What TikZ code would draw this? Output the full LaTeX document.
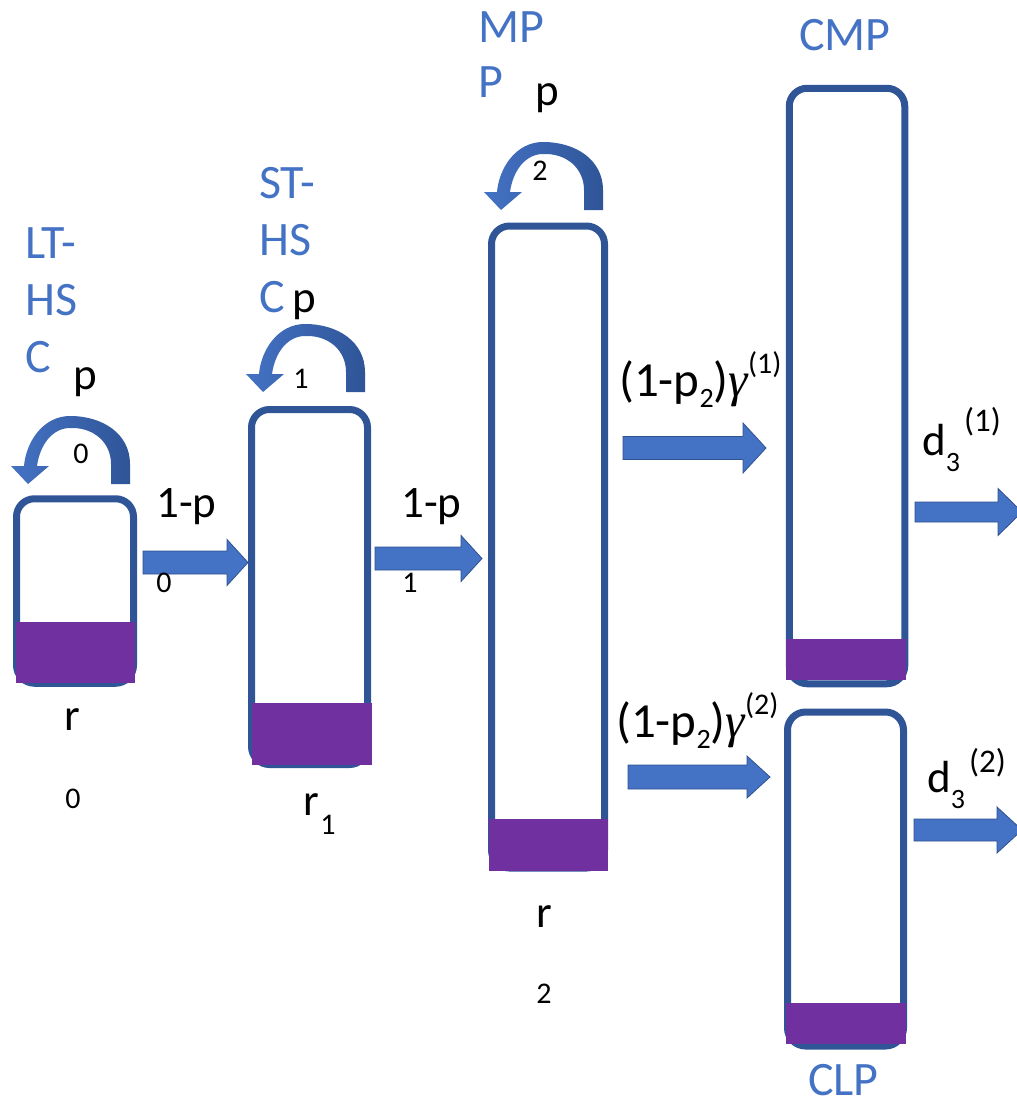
\documentclass[tikz,border=0pt]{standalone}
\usepackage{fontspec}
\setmainfont{Carlito}
\newfontfamily\greekfont{Liberation Serif}

\definecolor{boxline}{RGB}{47,85,151}
\definecolor{flowblue}{RGB}{68,114,196}
\definecolor{flowedge}{RGB}{47,82,143}
\definecolor{poolfill}{RGB}{112,48,160}
\definecolor{typeblue}{RGB}{68,114,196}

\tikzset{
  stage/.style={draw=boxline, line width=7pt, rounded corners=18pt, inner sep=0pt, outer sep=0pt},
  pool/.style={fill=poolfill},
  flow/.style={fill=flowblue, draw=flowedge, line width=0.8pt},
  celltype/.style={text=typeblue, anchor=base west, inner sep=0pt, font=\fontsize{48}{56}\selectfont},
  rate/.style={anchor=base west, inner sep=0pt, font=\fontsize{45}{54}\selectfont},
  ratec/.style={anchor=base, inner sep=0pt, font=\fontsize{45}{54}\selectfont},
  index/.style={anchor=base, inner sep=0pt, font=\fontsize{30}{36}\selectfont},
}

% block arrow: start x, head x, tip x, mid y, shaft half width, head half width
\newcommand\blockarrow[6]{%
  \path[flow] (#1,{#4-#5}) -- (#2,{#4-#5}) -- (#2,{#4-#6}) -- (#3,#4)
    -- (#2,{#4+#6}) -- (#2,{#4+#5}) -- (#1,{#4+#5}) -- cycle;}

% curved self-renewal arrow, placed by its tip
\newcommand\selfloop[2]{%
  \begin{scope}[shift={(#1,#2)}]
    \shade[left color=flowblue, right color=boxline]
      (102,0) -- (102,-20) .. controls (102,-50) and (75,-68) .. (42,-68)
      .. controls (15,-68) and (-2,-42) .. (-4,-18) -- (-17,-18) -- (0,0)
      -- (21,-18) -- (9,-18) .. controls (12,-40) and (25,-56) .. (42,-56)
      .. controls (65,-57) and (83,-42) .. (83,-20) -- (83,0) -- cycle;
  \end{scope}}

\newcommand\lowidx[3]{\raisebox{-#1pt}{\fontsize{#2}{#2}\selectfont #3}}
\newcommand\highidx[3]{\raisebox{#1pt}{\fontsize{#2}{#2}\selectfont #3}}

\begin{document}
\begin{tikzpicture}[x=1pt, y=-1pt]
\useasboundingbox (0,0) rectangle (1017,1103);

% compartments
\node[stage, minimum width=117pt, minimum height=184.5pt] (lthsc) at (75,591) {};
\node[stage, minimum width=116pt, minimum height=355pt] (sthsc) at (309.5,587) {};
\node[stage, minimum width=113pt, minimum height=642pt] (mpp) at (548,547) {};
\node[stage, minimum width=115.5pt, minimum height=595.5pt] (cmp) at (847,386) {};
\node[stage, minimum width=116pt, minimum height=334pt] (clp) at (845.5,879) {};

% filled fractions
\fill[pool] (16,622) rectangle (135,683);
\fill[pool] (252,703) rectangle (372,765);
\fill[pool] (489,819) rectangle (608,871);
\fill[pool] (786,639) rectangle (906,680);
\fill[pool] (786,1003) rectangle (906,1044);

% self-renewal loops
\selfloop{28}{484}
\selfloop{263}{392}
\selfloop{501}{210}

% transitions
\blockarrow{143}{227}{248}{562.5}{11.5}{23}
\blockarrow{375}{461}{482}{558.5}{11.5}{23}
\blockarrow{623}{743}{766}{448}{11.5}{25}
\blockarrow{628}{747}{770}{777}{12}{21}
\blockarrow{915}{998}{1022}{512}{10}{23.5}
\blockarrow{914}{997}{1022}{830}{11}{23}

% compartment names
\node[celltype] (t1) at (25,258) {LT-};
\node[celltype] (t2) at (25,315) {HS};
\node[celltype] (t3) at (25,372) {C};
\node[celltype] (t4) at (259,198) {ST-};
\node[celltype] (t5) at (259,255) {HS};
\node[celltype] (t6) at (259,312) {C};
\node[celltype] (t7) at (478,42) {MP};
\node[celltype] (t8) at (478,97) {P};
\node[celltype] (t9) at (799,50) {CMP};
\node[celltype] (t10) at (808,1095) {CLP};

% self-renewal probabilities
\node[rate] (p0) at (73,389) {p};
\node[index] (p0i) at (81,463) {0};
\node[rate] (p1) at (292,312) {p};
\node[index] (p1i) at (301,388) {1};
\node[rate] (p2) at (535,105) {p};
\node[index] (p2i) at (540,180) {2};

% transition probabilities
\node[rate] (q0) at (156,517) {1-p};
\node[index] (q0i) at (164,592) {0};
\node[rate] (q1) at (401,517) {1-p};
\node[index] (q1i) at (410,592) {1};

\node[rate, font=\fontsize{49}{58}\selectfont] (g1) at (619,396)
  {(1-p\lowidx{11}{28}{2}){\greekfont\itshape γ}\highidx{23}{30}{(1)}};
\node[rate, font=\fontsize{49}{58}\selectfont] (g2) at (616,737)
  {(1-p\lowidx{11}{28}{2}){\greekfont\itshape γ}\highidx{23}{30}{(2)}};

\node[rate] (d1) at (922,455) {d\lowidx{16}{28}{3}\hspace{4pt}\highidx{24}{33}{(1)}};
\node[rate] (d2) at (927,792) {d\lowidx{16}{28}{3}\hspace{4pt}\highidx{20}{33}{(2)}};

% pool sizes
\node[ratec] (r0) at (72,730) {r};
\node[index] (r0i) at (73,808) {0};
\node[ratec] (r1) at (311,815) {r};
\node[index] (r1i) at (328,834) {1};
\node[ratec] (r2) at (544,927) {r};
\node[index] (r2i) at (544,1003) {2};
\end{tikzpicture}
\end{document}
